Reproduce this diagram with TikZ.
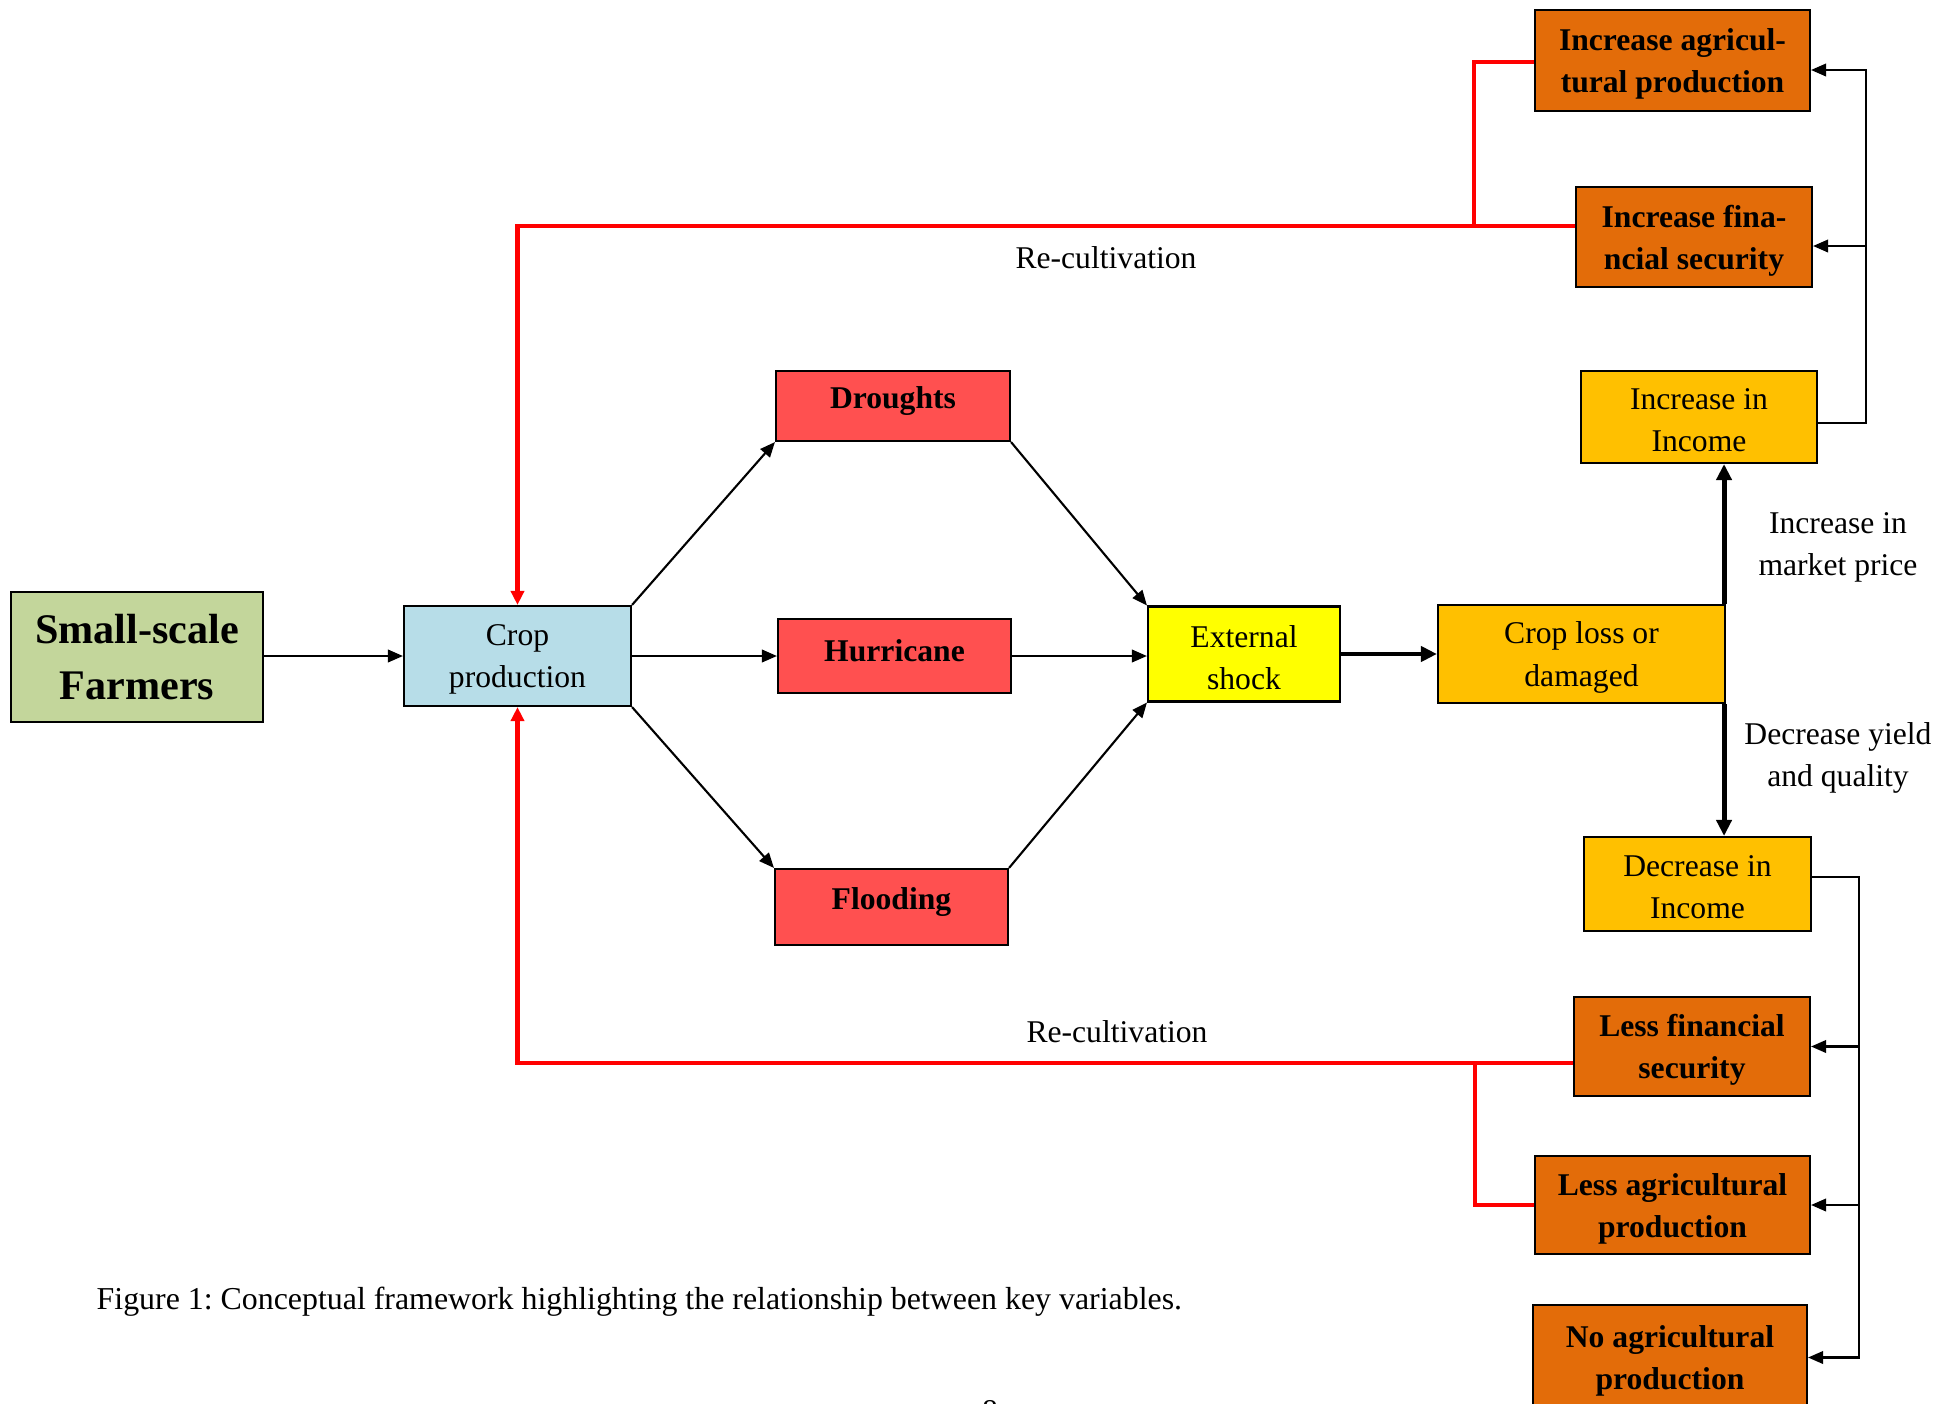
\documentclass[tikz,border=0pt]{standalone}
\usepackage{fontspec}
\setmainfont{Liberation Serif}
\usetikzlibrary{arrows.meta,calc}
\definecolor{boxgreen}{HTML}{C3D69B}
\definecolor{boxblue}{HTML}{B7DDE8}
\definecolor{boxred}{HTML}{FF5050}
\definecolor{boxyellow}{HTML}{FFFF00}
\definecolor{boxgold}{HTML}{FFC000}
\definecolor{boxorange}{HTML}{E36C09}
\newcommand\lowr[1]{\raisebox{-1pt}[\height][\depth]{#1}}
\newcommand\highr[1]{\raisebox{1.4pt}[\height][\depth]{#1}}
\frenchspacing
\begin{document}
\begin{tikzpicture}[x=0.1mm,y=-0.1mm,
  box/.style={draw=black,line width=0.6pt,inner sep=0pt,align=center,font=\fontsize{9}{12}\selectfont},
  bbox/.style={box,font=\fontsize{9}{12}\selectfont\bfseries},
  conn/.style={line width=0.6pt,line join=miter,-{Triangle[length=1.5mm,width=1.25mm]}},
  thickconn/.style={line width=1.4pt,-{Triangle[length=1.6mm,width=1.5mm]}},
  redline/.style={draw=red,line width=1.15pt,line join=miter},
  redarrow/.style={redline,-{Triangle[length=1.4mm,width=1.3mm]}},
  lbl/.style={align=center,font=\fontsize{9}{12}\selectfont,inner sep=0pt}
]
\useasboundingbox (0,0) rectangle (1957,1404);
\fill[white] (0,0) rectangle (1957,1404);

% nodes
\node[box,fill=boxgreen,minimum width=25.2mm,minimum height=13mm,font=\fontsize{12}{16}\selectfont\bfseries] (farmers) at (137,657) {Small-scale\\Farmers};
\node[box,fill=boxblue,minimum width=22.7mm,minimum height=10mm] (crop) at (517.5,656) {\lowr{Crop}\\\lowr{production}};
\node[bbox,fill=boxred,minimum width=23.4mm,minimum height=7mm] (drought) at (893,406) {\highr{Droughts}};
\node[bbox,fill=boxred,minimum width=23.3mm,minimum height=7.4mm] (hurricane) at (894.5,656) {\highr{Hurricane}};
\node[bbox,fill=boxred,minimum width=23.3mm,minimum height=7.6mm] (flood) at (891.5,907) {\highr{Flooding}};
\node[box,fill=boxyellow,minimum width=19.2mm,minimum height=9.5mm] (shock) at (1244,654) {\lowr{External}\\\lowr{shock}};
\node[box,fill=boxgold,minimum width=28.7mm,minimum height=9.8mm] (loss) at (1581.5,654) {\lowr{Crop loss or}\\\lowr{damaged}};
\node[bbox,fill=boxorange,minimum width=27.5mm,minimum height=10.1mm] (incagri) at (1672.5,60.5) {\lowr{Increase agricul-}\\\lowr{tural production}};
\node[bbox,fill=boxorange,minimum width=23.6mm,minimum height=10mm] (incfin) at (1694,237) {\lowr{Increase fina-}\\\lowr{ncial security}};
\node[box,fill=boxgold,minimum width=23.6mm,minimum height=9.2mm] (incinc) at (1699,417) {\lowr{Increase in}\\\lowr{Income}};
\node[box,fill=boxgold,minimum width=22.7mm,minimum height=9.4mm] (decinc) at (1697.5,884) {\lowr{Decrease in}\\\lowr{Income}};
\node[bbox,fill=boxorange,minimum width=23.6mm,minimum height=9.9mm] (lessfin) at (1692,1046.5) {\lowr{Less financial}\\\lowr{security}};
\node[bbox,fill=boxorange,minimum width=27.5mm,minimum height=9.8mm] (lessagri) at (1672.5,1205) {\lowr{Less agricultural}\\\lowr{production}};
\node[bbox,fill=boxorange,minimum width=27.4mm,minimum height=10.5mm] (noagri) at (1670,1357.5) {\lowr{No agricultural}\\\lowr{production}};

% labels
\node[lbl] (rc1) at (1106,258) {Re-cultivation};
\node[lbl] (rc2) at (1117,1032) {Re-cultivation};
\node[lbl] (mp) at (1838,547) {Increase in\\market price};
\node[lbl] (dy) at (1838,758) {Decrease yield\\and quality};
\node[lbl,anchor=west,font=\fontsize{9.07}{12}\selectfont] (cap) at (96,1302) {Figure 1: Conceptual framework highlighting the relationship between key variables.};
\node[lbl,anchor=north] (pg) at (990,1400) {8};

% main flow
\draw[conn] (farmers.east |- crop.west) -- (crop.west);
\draw[conn] (crop.north east) -- (drought.south west);
\draw[conn] (crop.east) -- (hurricane.west);
\draw[conn] (crop.south east) -- (flood.north west);
\draw[conn] (drought.south east) -- (shock.north west);
\draw[conn] (hurricane.east) -- (hurricane.east -| shock.west);
\draw[conn] (flood.north east) -- (shock.south west);
\draw[thickconn] (shock.east) -- (loss.west);

\coordinate (lxn) at ([xshift=-0.2mm]loss.north east);
\coordinate (lxs) at ([xshift=-0.2mm]loss.south east);
\draw[thickconn] (lxn) -- (lxn |- incinc.south);
\draw[thickconn] (lxs) -- (lxs |- decinc.north);

% right bracket (top)
\coordinate (ie) at ($(incinc.east)+(0,6)$);
\coordinate (rb1) at ($(ie)+(48,0)$);
\coordinate (ae) at ($(incagri.east)+(0,9.5)$);
\coordinate (fe) at ($(incfin.east)+(0,9)$);
\draw[conn] (ie) -- (rb1) |- (ae);
\draw[conn] (fe -| rb1) -- (fe);

% right bracket (bottom)
\coordinate (de) at ($(decinc.east)+(0,-7)$);
\coordinate (db) at ($(de)+(47,0)$);
\draw[conn] (de) -- (db) |- (noagri.east);
\draw[conn] (db |- lessfin.east) -- (lessfin.east);
\draw[conn] (db |- lessagri.east) -- (lessagri.east);

% red feedback (top)
\coordinate (rf) at ($(incfin.west)+(0,-11)$);
\draw[redarrow] (rf) -- (rf -| crop.north) -- (crop.north);
\coordinate (raw) at ($(incagri.west)+(0,1.5)$);
\coordinate (ra) at ($(raw)+(-60,0)$);
\draw[redline] (raw) -- (ra) -- (ra |- rf);

% red feedback (bottom)
\coordinate (rl) at ($(lessfin.west)+(0,16.5)$);
\draw[redarrow] (rl) -- (rl -| crop.south) -- (crop.south);
\coordinate (rb2) at ($(lessagri.west)+(-59,0)$);
\draw[redline] (lessagri.west) -- (rb2) -- (rb2 |- rl);
\end{tikzpicture}
\end{document}
